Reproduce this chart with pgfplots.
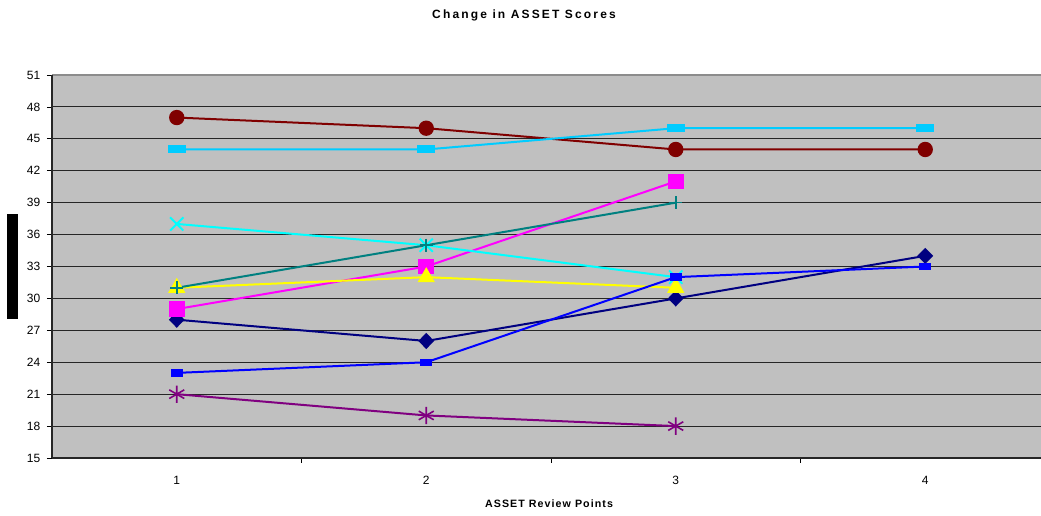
\documentclass[border=0pt]{standalone}
\usepackage{fontspec}
\setmainfont{Liberation Sans}
\usepackage{pgfplots}
\pgfplotsset{compat=1.18}
\definecolor{cNavy}{HTML}{000080}
\definecolor{cMag}{HTML}{FF00FF}
\definecolor{cYel}{HTML}{FFFF00}
\definecolor{cCyan}{HTML}{00FFFF}
\definecolor{cPur}{HTML}{800080}
\definecolor{cDred}{HTML}{800000}
\definecolor{cTeal}{HTML}{008080}
\definecolor{cBlue}{HTML}{0000FF}
\definecolor{cSky}{HTML}{00CCFF}
\definecolor{cBg}{HTML}{C0C0C0}
\begin{document}
\begin{tikzpicture}
\useasboundingbox (-39pt,-42.75pt) rectangle (741.75pt,343.5pt);
\begin{axis}[
  at={(0,0)}, anchor=south west,
  width=741.75pt, height=287.25pt, scale only axis,
  xmin=0.5, xmax=4.464, ymin=15, ymax=51,
  axis line style={draw=none},
  axis background/.style={fill=cBg},
  ytick={15,18,...,51},
  xtick={1,2,3,4},
  minor xtick={1.5,2.5,3.5},
  xtick pos=bottom, ytick pos=left,
  major tick length=3.75pt,
  minor tick length=3.5pt,
  tick align=outside,
  tick style={black, line width=0.6pt},
  major x tick style={draw=none},
  minor x tick style={draw=black, line width=0.6pt},
  ymajorgrids,
  major grid style={black!85, line width=0.75pt},
  /pgf/number format/assume math mode=true,
  tick label style={font=\fontsize{9}{10}\selectfont},
  xticklabel style={yshift=-6pt},
  yticklabel style={xshift=-1pt},
  clip=false,
  line width=1.5pt,
]
\addplot[cNavy, mark=diamond*, mark size=5pt, mark options={xscale=1.3}] coordinates {(1,28) (2,26) (3,30) (4,34)};
\addplot[cMag, mark=square*, mark size=5.1pt] coordinates {(1,29) (2,33) (3,41)};
\addplot[cYel, mark=triangle*, mark size=6pt] coordinates {(1,31) (2,32) (3,31)};
\addplot[cCyan, mark=x, mark size=7pt, mark options={line width=1.4pt}] coordinates {(1,37) (2,35) (3,32)};
\addplot[cPur, mark=asterisk, mark size=6.5pt, mark options={line width=1.2pt}] coordinates {(1,21) (2,19) (3,18)};
\addplot[cDred, mark=*, mark size=5pt] coordinates {(1,47) (2,46) (3,44) (4,44)};
\addplot[cTeal, mark=+, mark size=5pt, mark options={line width=1.2pt}] coordinates {(1,31) (2,35) (3,39)};
\addplot[cBlue, mark=square*, mark size=2pt, mark options={xscale=1.9}] coordinates {(1,23) (2,24) (3,32) (4,33)};
\addplot[cSky, mark=square*, mark size=2.25pt, mark options={xscale=2.67}] coordinates {(1,44) (2,44) (3,46) (4,46)};
\draw[black!45, line width=1.2pt] (rel axis cs:0,1) -- (rel axis cs:1,1);
\draw[black!85, line width=1.3pt] (rel axis cs:0,0) -- (rel axis cs:1,0);
\draw[black!85, line width=1.3pt] (rel axis cs:0,0) -- (rel axis cs:0,1);
\end{axis}
\node[font=\bfseries\fontsize{9}{11}\selectfont\addfontfeature{LetterSpace=18}] at (354pt,332.25pt) {Change in ASSET Scores};
\node[font=\bfseries\fontsize{8}{10}\selectfont\addfontfeature{LetterSpace=10}] at (372.75pt,-34.5pt) {ASSET Review Points};
\node[fill=black, text=black, rotate=90, minimum width=78.75pt, minimum height=8.25pt, inner sep=0pt, font=\fontsize{6}{7}\selectfont] at (-29.6pt,143.6pt) {ASSET Score};
\end{tikzpicture}
\end{document}
